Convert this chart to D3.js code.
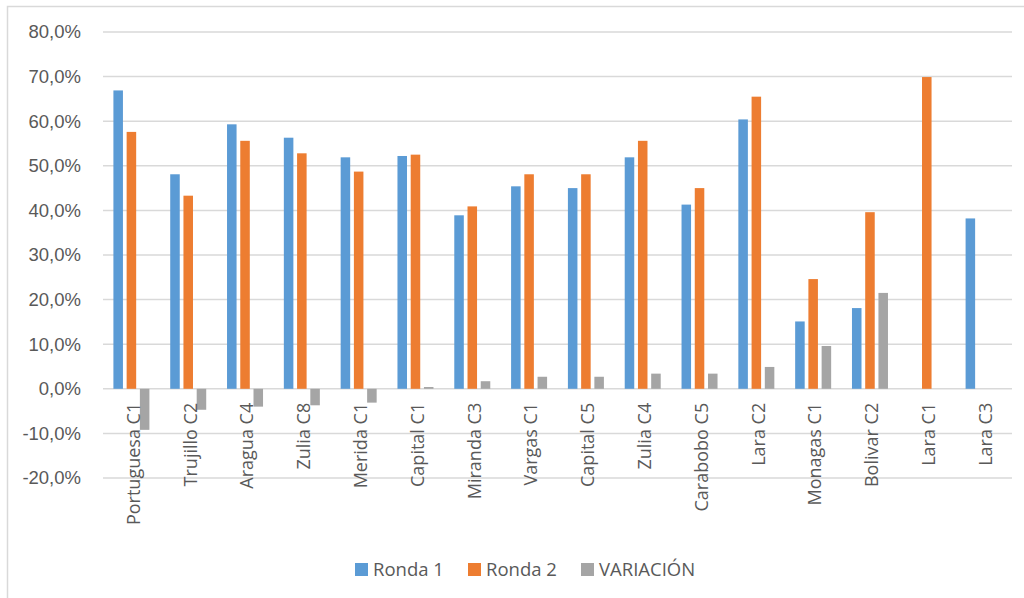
<!DOCTYPE html>
<html>
<head>
<meta charset="utf-8">
<script src="https://cdn.jsdelivr.net/npm/d3@7"></script>
<style>
  body { margin: 0; background: #fff; }
  svg { display: block; font-family: "Open Sans", "DejaVu Sans", sans-serif; }
</style>
</head>
<body>
<div id="chart"></div>
<script>
// Données
const categories = ["Portuguesa C1", "Trujillo C2", "Aragua C4", "Zulia C8", "Merida C1", "Capital C1",
  "Miranda C3", "Vargas C1", "Capital C5", "Zulia C4", "Carabobo C5", "Lara C2", "Monagas C1",
  "Bolivar C2", "Lara C1", "Lara C3"];
const ronda1 = [66.9, 48.1, 59.3, 56.3, 51.9, 52.2, 38.9, 45.4, 45.0, 51.9, 41.3, 60.4, 15.1, 18.1, null, 38.2];
const ronda2 = [57.6, 43.3, 55.6, 52.8, 48.7, 52.5, 40.9, 48.1, 48.1, 55.6, 45.0, 65.5, 24.6, 39.6, 69.9, null];
const variacion = [-9.2, -4.7, -4.0, -3.7, -3.1, 0.4, 1.7, 2.7, 2.7, 3.4, 3.4, 4.9, 9.6, 21.5, null, null];
const yTicks = [-20, -10, 0, 10, 20, 30, 40, 50, 60, 70, 80];

const seriesNames = ["Ronda 1", "Ronda 2", "VARIACIÓN"];
const seriesColors = ["#5B9BD5", "#ED7D31", "#A5A5A5"];
const seriesValues = [ronda1, ronda2, variacion];

const fullWidth = 1024, fullHeight = 598;
const margin = { top: 32, right: 12, bottom: 120, left: 103 };
const width = fullWidth - margin.left - margin.right,
      height = 478 - margin.top;

const svg = d3.select("#chart").append("svg")
  .attr("width", fullWidth)
  .attr("height", fullHeight);

// cadre du graphique
svg.append("rect")
  .attr("x", 7.5).attr("y", 6.5)
  .attr("width", 1040).attr("height", 620)
  .attr("fill", "none")
  .attr("stroke", "#D9D9D9")
  .attr("stroke-width", 1.5);

const g = svg.append("g")
  .attr("transform", "translate(" + margin.left + "," + margin.top + ")");

const xScale = d3.scaleBand().domain(categories).range([0, width]);
const yScale = d3.scaleLinear().domain([-20, 80]).range([height, 0]);
const xSub = d3.scaleBand().domain(seriesNames).range([-18, 18]).paddingInner(0.28);

// grille
g.append("g")
  .selectAll("line")
  .data(yTicks).enter()
  .append("line")
  .attr("x1", 0).attr("x2", width)
  .attr("y1", d => yScale(d)).attr("y2", d => yScale(d))
  .attr("stroke", "#D9D9D9")
  .attr("stroke-width", 1.5);

// axe Y
const fmt = d => d.toFixed(1).replace(".", ",") + "%";
const yAxis = g.append("g")
  .call(d3.axisLeft(yScale).tickValues(yTicks).tickFormat(fmt).tickSize(0).tickPadding(22));
yAxis.select(".domain").remove();
yAxis.selectAll("text")
  .style("font-size", "18.5px")
  .attr("fill", "#595959");

// barres
seriesNames.forEach(function(name, si) {
  g.append("g")
    .selectAll("rect")
    .data(categories.map((c, i) => ({ c: c, v: seriesValues[si][i] })).filter(d => d.v !== null))
    .enter()
    .append("rect")
    .attr("x", d => xScale(d.c) + xScale.bandwidth() / 2 + xSub(name))
    .attr("width", xSub.bandwidth())
    .attr("y", d => yScale(Math.max(0, d.v)))
    .attr("height", d => Math.abs(yScale(d.v) - yScale(0)))
    .attr("fill", seriesColors[si]);
});

// étiquettes des catégories
g.append("g")
  .selectAll("text")
  .data(categories).enter()
  .append("text")
  .attr("transform", d => "translate(" + (xScale(d) + xScale.bandwidth() / 2 + 2) + "," + (yScale(0) + 14) + ") rotate(-90)")
  .attr("dy", "0.35em")
  .attr("text-anchor", "end")
  .style("font-size", "18px")
  .attr("fill", "#595959")
  .text(d => d);

// légende
const legendX = [355, 468, 581];
const legend = svg.append("g");
seriesNames.forEach(function(name, i) {
  const row = legend.append("g").attr("transform", "translate(" + legendX[i] + ",563)");
  row.append("rect").attr("width", 13).attr("height", 13).attr("fill", seriesColors[i]);
  row.append("text")
    .attr("x", 18).attr("y", 13)
    .style("font-size", "18.5px")
    .attr("fill", "#595959")
    .text(name);
});
</script>
</body>
</html>
